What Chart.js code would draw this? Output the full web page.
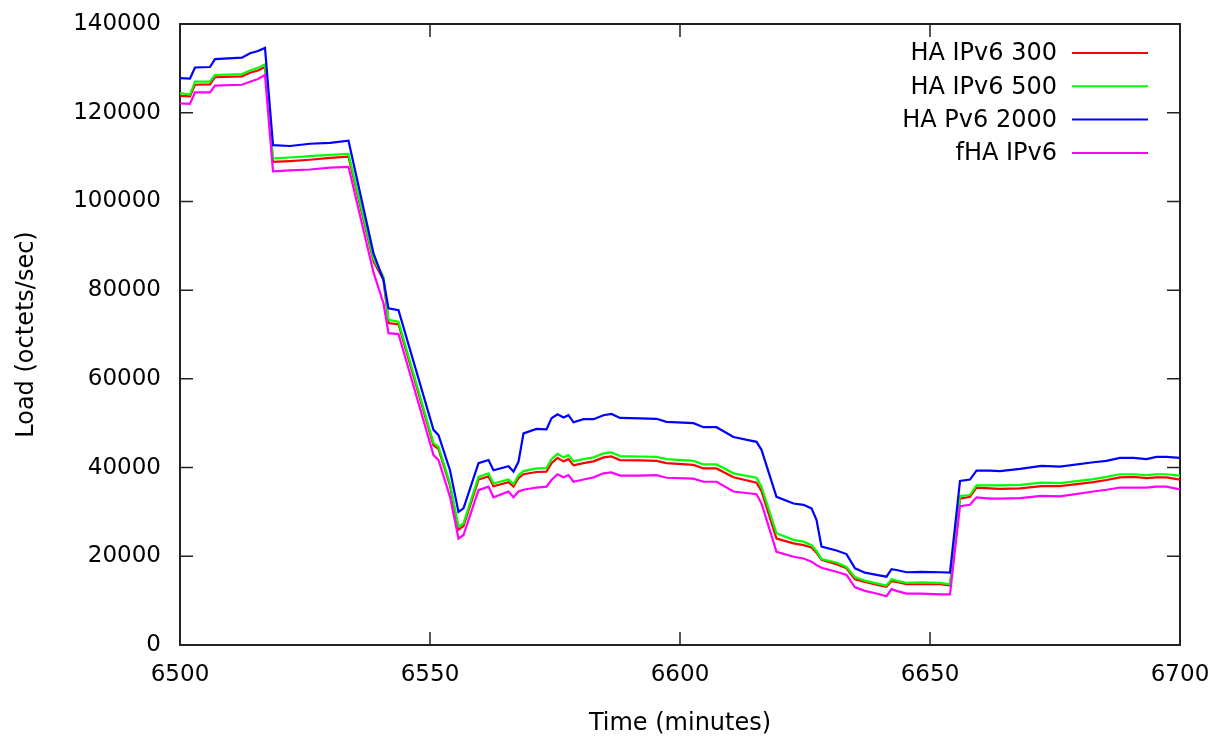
<!DOCTYPE html>
<html>
<head>
<meta charset="utf-8">
<script src="https://cdn.jsdelivr.net/npm/chart.js@4.4.0/dist/chart.umd.min.js"></script>
<style>
  html, body { margin: 0; padding: 0; background: #fff; }
  #wrap { width: 1215px; height: 740px; }
</style>
</head>
<body>
<div id="wrap"><canvas id="load-chart" width="1215" height="740"></canvas></div>
<script>
// sample times (minutes)
var minutes = [6500, 6502, 6503, 6506, 6507, 6512.4, 6514, 6515.6, 6517, 6518.6,
  6522, 6526, 6530, 6533.7, 6538.7, 6540.7, 6541.7, 6543.7, 6550.7, 6551.7,
  6554, 6555.7, 6556.7, 6559.7, 6561.7, 6562.7, 6565.7, 6566.7, 6567.7, 6568.7,
  6571.3, 6573.3, 6574.3, 6575.5, 6576.7, 6577.7, 6578.7, 6580.7, 6582.7, 6584.7,
  6586.3, 6588, 6592, 6595.3, 6597.3, 6602.7, 6604.7, 6607.3, 6610.7, 6615.3,
  6616.3, 6619.3, 6622.7, 6624.7, 6626.3, 6627.3, 6628.3, 6631.3, 6633.3, 6635,
  6637, 6639.3, 6641.3, 6642.3, 6643.3, 6645.3, 6648.3, 6652, 6654, 6656,
  6658, 6659.3, 6662, 6664, 6668, 6672.3, 6676, 6682.7, 6685.3, 6688,
  6690.7, 6693.3, 6695.3, 6697.3, 6700]

var ha300 = [123800, 123700, 126300, 126400, 128000, 128200, 129000, 129500, 130300, 108900,
  109100, 109400, 109800, 110100, 86500, 82300, 72600, 72300, 45000, 44200,
  35900, 26000, 26800, 37300, 38000, 35800, 36700, 35700, 37600, 38500,
  39000, 39100, 41000, 42200, 41400, 41900, 40500, 41000, 41400, 42300,
  42500, 41700, 41600, 41500, 41000, 40600, 39800, 39800, 37800, 36600,
  34700, 24000, 22900, 22500, 22000, 20800, 19200, 18200, 17300, 14800,
  14200, 13600, 13100, 14400, 14200, 13700, 13700, 13700, 13400, 33000,
  33400, 35500, 35300, 35200, 35300, 35800, 35800, 36700, 37200, 37800,
  37900, 37600, 37800, 37800, 37300]

var ha500 = [124400, 124100, 127000, 127000, 128500, 128700, 129500, 130100, 130900, 109700,
  109900, 110200, 110500, 110700, 87000, 83000, 73300, 72900, 45500, 44700,
  36400, 26700, 27400, 37900, 38700, 36400, 37300, 36300, 38300, 39200,
  39800, 39900, 41900, 43100, 42300, 42800, 41400, 41900, 42300, 43200,
  43400, 42600, 42500, 42400, 41900, 41500, 40700, 40700, 38700, 37700,
  35700, 25200, 23700, 23300, 22500, 21200, 19400, 18600, 17600, 15300,
  14500, 13900, 13400, 14800, 14500, 14000, 14100, 14000, 13700, 33600,
  33800, 36000, 36000, 36000, 36100, 36600, 36500, 37400, 37900, 38500,
  38500, 38300, 38500, 38500, 38200]

var ha2000 = [127800, 127700, 130200, 130300, 132100, 132400, 133400, 133900, 134600, 112700,
  112500, 113000, 113200, 113700, 88300, 82300, 75900, 75500, 48500, 47300,
  39400, 30000, 30800, 41000, 41700, 39400, 40300, 39100, 41300, 47700,
  48700, 48600, 51100, 52000, 51300, 51800, 50200, 50900, 50900, 51800,
  52100, 51200, 51100, 51000, 50300, 50000, 49100, 49100, 46900, 45800,
  44000, 33400, 31900, 31600, 30800, 28200, 22200, 21300, 20500, 17300,
  16300, 15800, 15400, 17100, 16900, 16400, 16500, 16400, 16300, 37000,
  37300, 39300, 39300, 39200, 39700, 40400, 40200, 41200, 41500, 42200,
  42200, 41900, 42400, 42400, 42200]

var fha = [122100, 122000, 124600, 124600, 126100, 126300, 127000, 127600, 128500, 106800,
  107000, 107200, 107600, 107800, 84000, 77000, 70300, 70100, 42800, 41700,
  33400, 24000, 24800, 34900, 35700, 33300, 34600, 33300, 34600, 35000,
  35500, 35700, 37200, 38500, 37800, 38300, 36800, 37300, 37800, 38700,
  38900, 38200, 38200, 38300, 37700, 37500, 36800, 36800, 34600, 34000,
  31900, 21000, 19900, 19500, 18800, 18000, 17400, 16500, 15800, 13000,
  12200, 11600, 11000, 12600, 12200, 11600, 11600, 11400, 11400, 31300,
  31600, 33300, 33000, 33000, 33100, 33600, 33500, 34600, 35000, 35500,
  35500, 35500, 35700, 35700, 35100]

var seriesNames = ['HA IPv6 300', 'HA IPv6 500', 'HA Pv6 2000', 'fHA IPv6']
var seriesColors = ['#ff0000', '#00ff00', '#0000ff', '#ff00ff']
var xTicks = [6500, 6550, 6600, 6650, 6700]
var yTicks = [0, 20000, 40000, 60000, 80000, 100000, 120000, 140000]

function points(vals) {
  return minutes.map(function (m, i) { return { x: m, y: vals[i] } })
}

Chart.defaults.font.family = "'DejaVu Sans', sans-serif"
Chart.defaults.color = '#000'

// gnuplot style box with inward ticks on all four sides
var frame = {
  id: 'frame',
  beforeDatasetsDraw: function (chart) {
    var ctx = chart.ctx, a = chart.chartArea
    var xs = chart.scales.x, ys = chart.scales.y
    var len = 13
    ctx.save()
    ctx.strokeStyle = '#222'
    ctx.lineWidth = 1.5
    ctx.beginPath()
    xTicks.forEach(function (t) {
      var px = xs.getPixelForValue(t)
      ctx.moveTo(px, a.bottom); ctx.lineTo(px, a.bottom - len)
      ctx.moveTo(px, a.top); ctx.lineTo(px, a.top + len)
    })
    yTicks.forEach(function (t) {
      var py = ys.getPixelForValue(t)
      ctx.moveTo(a.left, py); ctx.lineTo(a.left + len, py)
      ctx.moveTo(a.right, py); ctx.lineTo(a.right - len, py)
    })
    ctx.stroke()
    ctx.lineWidth = 2
    ctx.strokeRect(a.left, a.top, a.right - a.left, a.bottom - a.top)
    ctx.restore()
  }
}

// key in the top right corner: label, then line sample
var key = {
  id: 'key',
  afterDraw: function (chart) {
    var ctx = chart.ctx, a = chart.chartArea
    ctx.save()
    ctx.font = "24px 'DejaVu Sans'"
    ctx.textAlign = 'right'
    ctx.textBaseline = 'middle'
    chart.data.datasets.forEach(function (ds, i) {
      var y = a.top + 29 + i * 33.3
      ctx.fillStyle = '#000'
      ctx.fillText(ds.label, a.right - 123, y + 1)
      ctx.strokeStyle = ds.borderColor
      ctx.lineWidth = 2
      ctx.beginPath()
      ctx.moveTo(a.right - 108, y)
      ctx.lineTo(a.right - 32, y)
      ctx.stroke()
    })
    ctx.restore()
  }
}

var allSeries = [ha300, ha500, ha2000, fha]
var datasets = allSeries.map(function (vals, i) {
  return {
    label: seriesNames[i],
    data: points(vals),
    borderColor: seriesColors[i],
    borderWidth: 2.2,
    pointRadius: 0,
    fill: false,
    tension: 0,
    order: 4 - i
  }
})

var loadChart = new Chart(document.getElementById('load-chart'), {
  type: 'line',
  data: { datasets: datasets },
  options: {
    responsive: false,
    animation: false,
    layout: { padding: { left: 0, right: 35, top: 24, bottom: 0 } },
    plugins: { legend: { display: false }, tooltip: { enabled: false } },
    scales: {
      x: {
        type: 'linear',
        min: 6500,
        max: 6700,
        grid: { display: false, drawTicks: false },
        border: { display: false },
        afterBuildTicks: function (s) { s.ticks = xTicks.map(function (v) { return { value: v } }) },
        afterFit: function (s) {
          s.height = 95
          s.paddingLeft = 0
          s.paddingRight = 0
        },
        ticks: { font: { size: 23 }, padding: 16, maxRotation: 0, callback: function (v) { return String(v) } },
        title: { display: true, text: 'Time (minutes)', font: { size: 24 }, padding: { top: 0, bottom: 2 } }
      },
      y: {
        min: 0,
        max: 140000,
        grid: { display: false, drawTicks: false },
        border: { display: false },
        afterBuildTicks: function (s) { s.ticks = yTicks.map(function (v) { return { value: v } }) },
        afterFit: function (s) {
          s.width = 180
          s.paddingTop = 0
          s.paddingBottom = 0
        },
        ticks: { font: { size: 23 }, padding: 19, callback: function (v) { return String(v) } },
        title: { display: true, text: 'Load (octets/sec)', font: { size: 24 }, padding: { top: 12, bottom: 0 } }
      }
    }
  },
  plugins: [frame, key]
})
</script>
</body>
</html>
